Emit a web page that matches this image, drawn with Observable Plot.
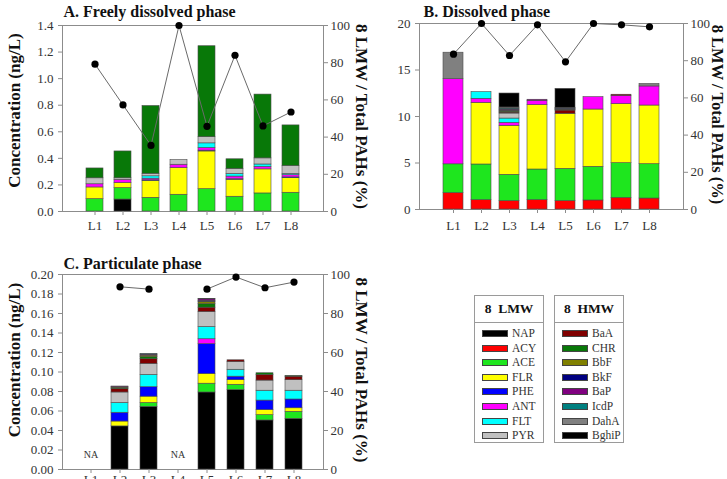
<!DOCTYPE html>
<html><head><meta charset="utf-8">
<script src="https://cdn.jsdelivr.net/npm/d3@7"></script>
<script src="https://cdn.jsdelivr.net/npm/@observablehq/plot@0.6"></script>
<style>
body{margin:0;background:#fff;width:727px;height:479px;overflow:hidden;position:relative;font-family:"Liberation Serif","Times New Roman",Times,serif;}
.panel{position:absolute;}
.lg{position:absolute;border:1px solid #9a9a9a;background:#fff;box-sizing:border-box;}
.lg .hd{position:absolute;left:0;right:0;top:0;height:26px;border-bottom:1px solid #9a9a9a;font-weight:bold;font-size:13.5px;line-height:26px;text-align:center;color:#111;white-space:pre;}
.lg .row{position:absolute;left:0;height:14px;}
.lg .sw{position:absolute;left:7px;top:4px;width:24px;height:5px;border:1px solid #444;}
.lg .tx{position:absolute;left:37px;top:-1px;font-size:11.5px;line-height:16px;color:#333;}
</style></head><body>
<div id="A" class="panel" style="left:0;top:0"></div>
<div id="B" class="panel" style="left:370px;top:0"></div>
<div id="C" class="panel" style="left:0;top:245px"></div>
<div id="lgL" class="lg" style="left:474px;top:295px;width:70px;height:148px"></div>
<div id="lgH" class="lg" style="left:554px;top:295px;width:70px;height:148px"></div>
<script>
const sites = ["L1","L2","L3","L4","L5","L6","L7","L8"];
const compounds = ["NAP","ACY","ACE","FLR","PHE","ANT","FLT","PYR","BaA","CHR","BbF","BkF","BaP","IcdP","DahA","BghiP"];
const lmwGroup = compounds.slice(0, 8);
const hmwGroup = compounds.slice(8);
const palette = ["#000000","#ff0000","#1ee61e","#ffff00","#0000ff","#ff00ff","#00ffff","#c0c0c0","#800000","#087808","#808000","#000080","#800080","#008080","#808080","#000000"];

// rows: compounds (order above); columns: L1..L8 ; concentrations in ng/L
const freelyDissolved = [
  [0, 0.090, 0, 0, 0, 0, 0, 0],
  [0, 0, 0, 0, 0, 0, 0, 0],
  [0.093, 0.086, 0.103, 0.126, 0.168, 0.111, 0.136, 0.141],
  [0.088, 0.038, 0.128, 0.201, 0.284, 0.128, 0.181, 0.110],
  [0, 0, 0.004, 0, 0.006, 0.004, 0, 0.006],
  [0.024, 0.024, 0.012, 0.025, 0.020, 0.020, 0.019, 0.016],
  [0, 0, 0.018, 0, 0.035, 0.020, 0.018, 0.010],
  [0.045, 0.012, 0.019, 0.035, 0.047, 0.038, 0.046, 0.060],
  [0, 0, 0, 0, 0, 0, 0, 0],
  [0.074, 0.202, 0.510, 0, 0.684, 0.072, 0.480, 0.305],
  [0, 0, 0, 0, 0, 0, 0, 0],
  [0, 0, 0, 0, 0, 0, 0, 0],
  [0, 0, 0, 0, 0, 0, 0, 0],
  [0, 0, 0, 0, 0, 0, 0, 0],
  [0, 0, 0, 0, 0, 0, 0, 0],
  [0, 0, 0, 0, 0, 0, 0, 0]
];
const freelyPct = [79.2, 57.3, 35.5, 100, 45.8, 84, 46, 53.5];

const dissolved = [
  [0, 0, 0, 0, 0, 0, 0, 0],
  [1.76, 1.0, 0.9, 1.0, 0.9, 0.97, 1.25, 1.18],
  [3.1, 3.84, 2.83, 3.3, 3.47, 3.62, 3.73, 3.69],
  [0, 6.63, 5.27, 6.92, 5.92, 6.16, 6.35, 6.31],
  [0, 0, 0, 0, 0, 0, 0, 0],
  [9.15, 0.43, 0.32, 0.46, 0, 1.33, 0.89, 2.05],
  [0, 0.72, 0.46, 0, 0, 0, 0, 0],
  [0, 0, 0.54, 0, 0, 0, 0, 0],
  [0, 0, 0.1, 0, 0.35, 0, 0.12, 0],
  [0, 0, 0.1, 0, 0.05, 0, 0, 0],
  [0, 0, 0.1, 0, 0.05, 0, 0, 0],
  [0, 0, 0.1, 0, 0.05, 0, 0, 0],
  [0, 0, 0.05, 0.12, 0.05, 0, 0, 0],
  [0, 0, 0.1, 0, 0.05, 0, 0, 0],
  [2.85, 0, 0.1, 0, 0.05, 0, 0, 0.27],
  [0, 0, 1.5, 0, 2.03, 0, 0, 0]
];
const dissolvedPct = [83.5, 100, 82.8, 99.3, 79.4, 100, 99.3, 98.2];

const particulate = [
  [0, 0.0442, 0.0643, 0, 0.079, 0.0815, 0.0503, 0.052],
  [0, 0, 0, 0, 0, 0, 0, 0],
  [0, 0, 0.0039, 0, 0.009, 0.0054, 0.0054, 0.0072],
  [0, 0.005, 0.0065, 0, 0.010, 0.0047, 0.0053, 0.0036],
  [0, 0.009, 0.0097, 0, 0.0306, 0.0036, 0.0097, 0.009],
  [0, 0, 0, 0, 0.005, 0, 0, 0],
  [0, 0.010, 0.0126, 0, 0.0125, 0.0071, 0.0101, 0.009],
  [0, 0.0108, 0.0114, 0, 0.0155, 0.0079, 0.0104, 0.0108],
  [0, 0.0036, 0.0047, 0, 0.0044, 0.0018, 0.0058, 0.0036],
  [0, 0.0012, 0.0022, 0, 0.0035, 0, 0.0017, 0.0007],
  [0, 0.0008, 0.0015, 0, 0.0025, 0, 0, 0],
  [0, 0, 0, 0, 0.001, 0, 0, 0],
  [0, 0.0005, 0.001, 0, 0.0015, 0, 0, 0],
  [0, 0, 0.0005, 0, 0.0005, 0, 0, 0],
  [0, 0, 0, 0, 0, 0, 0, 0],
  [0, 0, 0, 0, 0, 0, 0, 0]
];
const particulatePct = [null, 93.7, 92.5, null, 92.5, 98.7, 93.2, 96.1];
const particulateNA = ["L1", "L4"];

const pctTicks = [0, 20, 40, 60, 80, 100];
const rightLabel = "8 LMW / Total PAHs (%)";
const leftLabel = "Concentration (ng/L)";
const serif = "'Liberation Serif','Times New Roman',Times,serif";

function panel(o) {
  const rows = [];
  compounds.forEach((c, i) => sites.forEach((s, j) => {
    const v = o.matrix[i][j];
    if (v > 0) rows.push({site: s, compound: c, value: v});
  }));
  const k = o.yMax / 100;
  const line = sites.map((s, j) => ({site: s, pct: o.pct[j]}));
  const marks = [
    Plot.frame({stroke: "#8c8c8c"}),
    Plot.barY(rows, {x: "site", y: "value", fill: "compound", stroke: "#4a4a4a", strokeWidth: 0.6}),
    Plot.axisY(o.yTicks, {anchor: "left", tickFormat: o.fmt, label: null, tickSize: 4, tickPadding: 5, stroke: "#8c8c8c", fill: "#333", fontSize: 13}),
    Plot.axisY(pctTicks.map(v => v * k), {anchor: "right", tickFormat: d => Math.round(d / k), label: null, tickSize: 4, tickPadding: 3, stroke: "#8c8c8c", fill: "#333", fontSize: 13}),
    Plot.axisX({label: null, tickSize: 4, tickPadding: o.xPad, stroke: "#8c8c8c", fill: "#333", fontSize: 13}),
    Plot.line(line, {x: "site", y: d => d.pct == null ? NaN : d.pct * k, stroke: "#6a6a6a", strokeWidth: 1}),
    Plot.dot(line.filter(d => d.pct != null), {x: "site", y: d => d.pct * k, r: 3.6, fill: "#000", stroke: "none"}),
    Plot.text([o.title], {frameAnchor: "top-left", textAnchor: "start", lineAnchor: "bottom", dy: -o.titleDy, dx: o.titleDx, fontSize: 16, fontWeight: "bold", fill: "#111"}),
    Plot.text([rightLabel], {frameAnchor: "right", textAnchor: "middle", lineAnchor: "middle", rotate: 90, dx: o.rightDx, dy: -2, fontSize: o.rightSize, fontWeight: "bold", fill: "#111"})
  ];
  if (o.left) marks.push(Plot.text([leftLabel], {frameAnchor: "left", textAnchor: "middle", lineAnchor: "middle", rotate: -90, dx: -48, dy: o.leftDy, fontSize: 17, fontWeight: "bold", fill: "#111"}));
  if (o.na) marks.push(Plot.text(o.na, {x: d => d, y: 0, dy: -15, text: () => "NA", fontSize: 10, fill: "#333"}));
  return Plot.plot({
    width: o.width, height: o.height,
    marginLeft: o.ml, marginRight: o.mr, marginTop: o.mt, marginBottom: o.mb,
    style: {fontFamily: serif, fontSize: "13px", background: "transparent", overflow: "visible", color: "#333"},
    x: {domain: sites, paddingInner: o.pi, paddingOuter: o.po},
    y: {domain: [0, o.yMax]},
    color: {domain: compounds, range: palette},
    marks
  });
}

document.getElementById("A").appendChild(panel({
  matrix: freelyDissolved, pct: freelyPct, yMax: 1.4, yTicks: d3.range(0, 1.41, 0.2), fmt: d3.format(".1f"),
  width: 370, height: 240, ml: 62, mr: 47, mt: 25, mb: 29, xPad: 5, titleDy: 9, titleDx: 1, rightDx: 38, rightSize: 17, leftDy: -8,
  pi: 0.38, po: 0.7, left: true, title: "A. Freely dissolved phase"
}));
document.getElementById("B").appendChild(panel({
  matrix: dissolved, pct: dissolvedPct, yMax: 20, yTicks: [0, 5, 10, 15, 20], fmt: d3.format("d"),
  width: 357, height: 240, ml: 49, mr: 44, mt: 23, mb: 31, xPad: 7, titleDy: 7, titleDx: 4, rightDx: 34, rightSize: 16.5, leftDy: 0,
  pi: 0.3, po: 0.72, left: false, title: "B. Dissolved phase"
}));
document.getElementById("C").appendChild(panel({
  matrix: particulate, pct: particulatePct, yMax: 0.2, yTicks: d3.range(0, 0.201, 0.02), fmt: d3.format(".2f"),
  width: 370, height: 245, ml: 62, mr: 47, mt: 29, mb: 21, xPad: 1, titleDy: 6, titleDx: 1, rightDx: 38, rightSize: 17, leftDy: -12,
  pi: 0.4, po: 0.7, left: true, title: "C. Particulate phase", na: particulateNA
}));

function legend(id, head, names) {
  const box = document.getElementById(id);
  const hd = document.createElement("div");
  hd.className = "hd"; hd.textContent = head; box.appendChild(hd);
  names.forEach((n, i) => {
    const r = document.createElement("div");
    r.className = "row"; r.style.top = (30 + i * 14.6) + "px";
    const sw = document.createElement("div");
    sw.className = "sw"; sw.style.background = palette[compounds.indexOf(n)];
    const tx = document.createElement("div");
    tx.className = "tx"; tx.textContent = n;
    r.appendChild(sw); r.appendChild(tx); box.appendChild(r);
  });
}
legend("lgL", "8  LMW", lmwGroup);
legend("lgH", "8  HMW", hmwGroup);
</script>
</body></html>
